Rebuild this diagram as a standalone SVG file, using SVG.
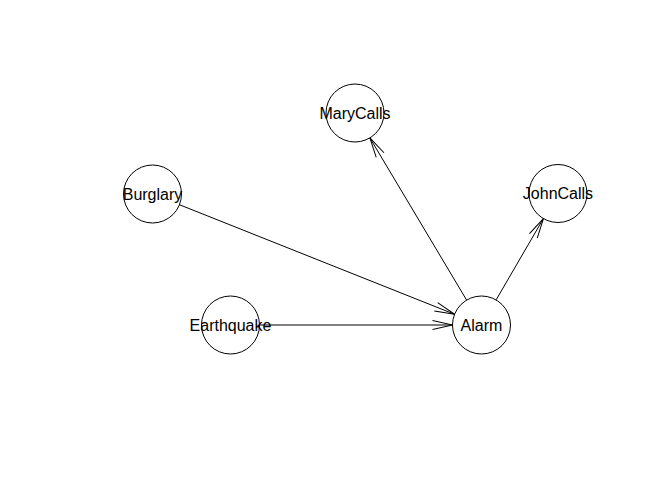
<svg xmlns="http://www.w3.org/2000/svg" width="672" height="480" viewBox="0 0 672 480">
<style>
.node circle{fill:#fff;stroke:#000;stroke-width:1}
.node text{font-family:"Liberation Sans",Arial,sans-serif;font-size:16px;text-anchor:middle;fill:#000}
.edge{stroke:#000;stroke-width:1;fill:none;marker-end:url(#arr)}
</style>
<defs>
<marker id="arr" markerUnits="userSpaceOnUse" viewBox="-21 -6 22 12" markerWidth="22" markerHeight="12" refX="0" refY="0" orient="auto" overflow="visible">
<path d="M-20,-4.5 L0,0 L-20,4.5" fill="none" stroke="#000" stroke-width="1"/>
</marker>
</defs>
<rect width="672" height="480" fill="#fff"/>
<g id="connectors">
<line class="edge" x1="179.44" y1="204.73" x2="454.56" y2="314.27"/>
<line class="edge" x1="259.5" y1="325" x2="452.5" y2="325"/>
<line class="edge" x1="466.64" y1="300.1" x2="369.86" y2="137.9"/>
<line class="edge" x1="496.08" y1="299.93" x2="543.42" y2="218.57"/>
</g>
<g id="MaryCalls" class="node"><circle cx="355" cy="113" r="29"/><text x="355" y="118.5">MaryCalls</text></g>
<g id="Burglary" class="node"><circle cx="152.5" cy="194" r="29"/><text x="152.5" y="199.5">Burglary</text></g>
<g id="JohnCalls" class="node"><circle cx="558" cy="193.5" r="29"/><text x="558" y="199">JohnCalls</text></g>
<g id="Earthquake" class="node"><circle cx="230.5" cy="325" r="29"/><text x="230.5" y="330.5">Earthquake</text></g>
<g id="Alarm" class="node"><circle cx="481.5" cy="325" r="29"/><text x="481.5" y="330.5">Alarm</text></g>
</svg>
